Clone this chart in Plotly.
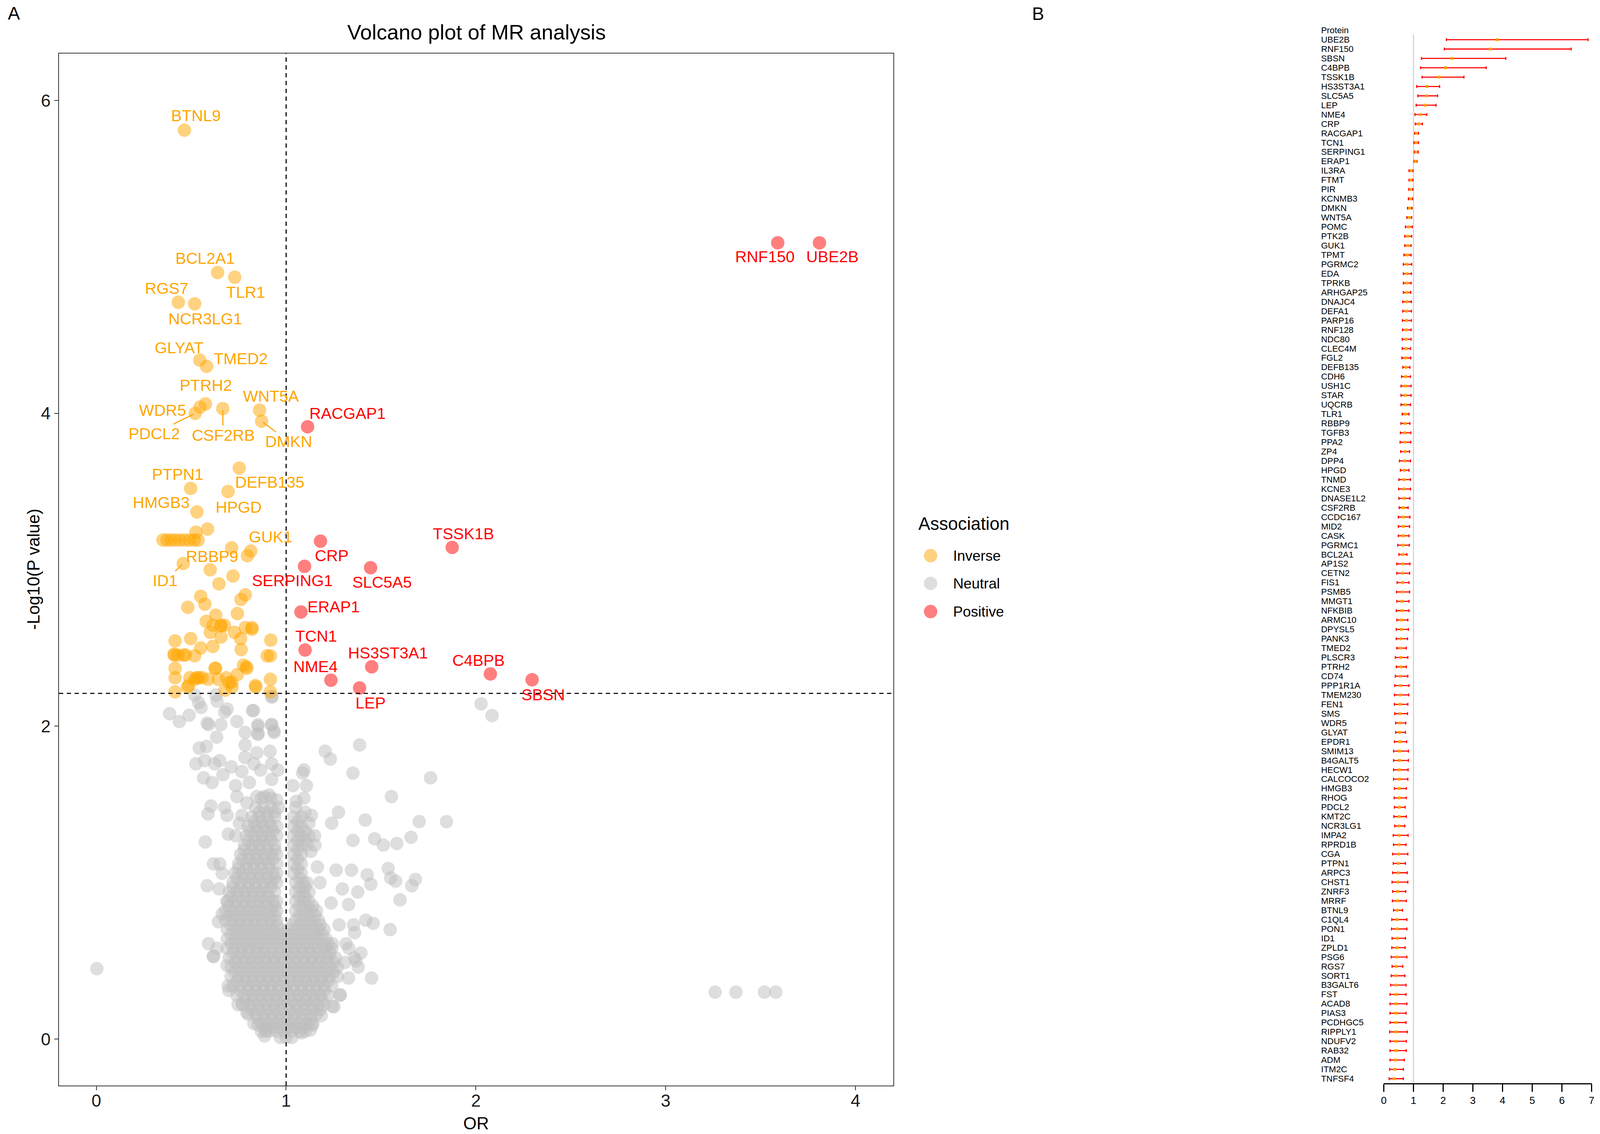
import plotly.graph_objects as go

W, H = 4511, 2902          # reference canvas, used to place things as fractions
S = 0.93                   # size factor for fonts / markers / strokes
FONT = "Liberation Sans, Arial, sans-serif"

# ---------------- Panel B : forest plot data ----------------
proteins = ["UBE2B","RNF150","SBSN","C4BPB","TSSK1B","HS3ST3A1","SLC5A5","LEP","NME4","CRP",
"RACGAP1","TCN1","SERPING1","ERAP1","IL3RA","FTMT","PIR","KCNMB3","DMKN","WNT5A",
"POMC","PTK2B","GUK1","TPMT","PGRMC2","EDA","TPRKB","ARHGAP25","DNAJC4","DEFA1",
"PARP16","RNF128","NDC80","CLEC4M","FGL2","DEFB135","CDH6","USH1C","STAR","UQCRB",
"TLR1","RBBP9","TGFB3","PPA2","ZP4","DPP4","HPGD","TNMD","KCNE3","DNASE1L2",
"CSF2RB","CCDC167","MID2","CASK","PGRMC1","BCL2A1","AP1S2","CETN2","FIS1","PSMB5",
"MMGT1","NFKBIB","ARMC10","DPYSL5","PANK3","TMED2","PLSCR3","PTRH2","CD74","PPP1R1A",
"TMEM230","FEN1","SMS","WDR5","GLYAT","EPDR1","SMIM13","B4GALT5","HECW1","CALCOCO2",
"HMGB3","RHOG","PDCL2","KMT2C","NCR3LG1","IMPA2","RPRD1B","CGA","PTPN1","ARPC3",
"CHST1","ZNRF3","MRRF","BTNL9","C1QL4","PON1","ID1","ZPLD1","PSG6","RGS7",
"SORT1","B3GALT6","FST","ACAD8","PIAS3","PCDHGC5","RIPPLY1","NDUFV2","RAB32","ADM",
"ITM2C","TNFSF4"]
or_vals = [3.82,3.59,2.30,2.08,1.87,1.45,1.44,1.39,1.23,1.18,
1.10,1.09,1.09,1.07,0.92,0.91,0.90,0.90,0.87,0.86,
0.83,0.81,0.81,0.79,0.78,0.78,0.78,0.78,0.78,0.77,
0.77,0.76,0.76,0.76,0.75,0.75,0.74,0.73,0.73,0.73,
0.73,0.72,0.71,0.71,0.71,0.70,0.69,0.68,0.68,0.68,
0.66,0.66,0.66,0.66,0.65,0.64,0.64,0.63,0.63,0.63,
0.61,0.61,0.60,0.59,0.58,0.57,0.57,0.58,0.56,0.56,
0.56,0.55,0.55,0.55,0.54,0.54,0.53,0.53,0.52,0.52,
0.52,0.52,0.52,0.52,0.51,0.51,0.51,0.50,0.49,0.49,
0.48,0.47,0.47,0.45,0.45,0.45,0.45,0.45,0.44,0.42,
0.42,0.42,0.41,0.41,0.40,0.40,0.40,0.40,0.40,0.39,
0.37,0.35]
ci_low = [2.11,2.04,1.27,1.24,1.29,1.11,1.15,1.09,1.05,1.06,
1.04,1.02,1.03,1.02,0.85,0.85,0.84,0.83,0.80,0.78,
0.73,0.71,0.71,0.68,0.66,0.66,0.66,0.66,0.64,0.64,
0.63,0.63,0.62,0.62,0.61,0.64,0.60,0.58,0.58,0.58,
0.62,0.58,0.56,0.55,0.57,0.53,0.56,0.51,0.50,0.51,
0.52,0.49,0.49,0.49,0.47,0.51,0.44,0.44,0.45,0.43,
0.44,0.42,0.44,0.42,0.42,0.44,0.39,0.42,0.39,0.37,
0.36,0.36,0.37,0.40,0.40,0.36,0.33,0.33,0.33,0.33,
0.36,0.35,0.36,0.34,0.37,0.32,0.33,0.30,0.32,0.30,
0.28,0.30,0.29,0.33,0.27,0.26,0.28,0.27,0.25,0.28,
0.25,0.23,0.21,0.21,0.21,0.21,0.20,0.21,0.21,0.21,
0.20,0.18]
ci_high = [6.88,6.31,4.11,3.45,2.70,1.88,1.81,1.76,1.45,1.30,
1.17,1.17,1.16,1.12,0.98,0.98,0.98,0.97,0.95,0.94,
0.96,0.94,0.92,0.92,0.94,0.93,0.92,0.91,0.93,0.93,
0.93,0.92,0.92,0.90,0.91,0.88,0.90,0.92,0.92,0.90,
0.85,0.88,0.91,0.91,0.87,0.90,0.85,0.90,0.90,0.88,
0.82,0.88,0.87,0.85,0.86,0.78,0.88,0.87,0.85,0.87,
0.85,0.85,0.81,0.83,0.80,0.76,0.81,0.76,0.81,0.85,
0.84,0.81,0.80,0.74,0.73,0.77,0.83,0.83,0.82,0.81,
0.76,0.76,0.72,0.76,0.71,0.82,0.75,0.81,0.73,0.79,
0.81,0.74,0.76,0.63,0.78,0.78,0.73,0.72,0.78,0.64,
0.71,0.75,0.75,0.78,0.75,0.75,0.79,0.76,0.76,0.69,
0.66,0.66]
forest_ticks = [0, 1, 2, 3, 4, 5, 6, 7]

# ---------------- Panel A : volcano data ----------------
pos_names = ["UBE2B","RNF150","SBSN","C4BPB","TSSK1B","HS3ST3A1","SLC5A5","LEP",
             "NME4","CRP","RACGAP1","TCN1","SERPING1","ERAP1"]
pos_or = [3.81,3.59,2.296,2.076,1.875,1.451,1.445,1.387,1.236,1.181,1.113,1.100,1.097,1.078]
pos_logp = [5.09,5.09,2.297,2.334,3.143,2.380,3.013,2.244,2.294,3.183,3.914,2.487,3.022,2.730]
pos_label_x = [3.879,3.523,2.354,2.013,1.935,1.538,1.505,1.445,1.155,1.240,1.323,1.158,1.033,1.250]
pos_label_y = [5.00,5.00,2.20,2.42,3.23,2.469,2.92,2.148,2.38,3.09,4.00,2.576,2.93,2.763]

inv_names = ["BTNL9","BCL2A1","TLR1","RGS7","NCR3LG1","GLYAT","TMED2","PTRH2","WDR5","PDCL2",
             "CSF2RB","WNT5A","DMKN","DEFB135","PTPN1","HPGD","HMGB3","GUK1","RBBP9","ID1"]
inv_or = [0.464,0.639,0.729,0.432,0.518,0.545,0.581,0.575,0.547,0.521,
          0.666,0.860,0.871,0.753,0.497,0.694,0.530,0.814,0.713,0.458]
inv_logp = [5.81,4.90,4.87,4.71,4.70,4.34,4.30,4.06,4.04,4.00,
            4.03,4.02,3.95,3.65,3.52,3.50,3.37,3.12,3.14,3.04]
inv_label_x = [0.524,0.574,0.788,0.371,0.574,0.436,0.762,0.578,0.349,0.305,
               0.668,0.921,1.013,0.914,0.429,0.750,0.342,0.917,0.611,0.363]
inv_label_y = [5.903,4.99,4.775,4.80,4.605,4.42,4.35,4.18,4.02,3.87,
               3.86,4.11,3.82,3.56,3.61,3.40,3.43,3.21,3.085,2.93]
inv_segment = ["PDCL2","CSF2RB","DMKN","ID1"]

# unlabeled inverse points
inv_other_or = [0.586,0.525,0.351,0.372,0.394,0.415,0.440,0.465,0.490,0.515,0.536,
                0.796,0.600,0.720,0.646,0.785,0.762,0.550,0.572,0.482,0.743,0.629,
                0.579,0.615,0.657,0.675,0.600,0.657,0.728,0.785,0.820,0.760,0.919,
                0.415,0.497,0.550,0.614,0.763,0.518,0.410,0.430,0.460,0.470,0.917,
                0.629,0.775,0.793,0.415,0.415,0.493,0.529,0.557,0.643,0.685,0.714,
                0.743,0.917,0.486,0.589,0.838,0.415,0.917,0.678,0.820,0.840,0.900,
                0.625,0.790,0.520,0.540,0.410,0.655,0.700,0.480,0.715]
inv_other_logp = [3.26,3.24,3.19,3.19,3.19,3.19,3.19,3.19,3.19,3.19,3.19,
                  3.09,3.00,2.96,2.91,2.84,2.81,2.83,2.78,2.76,2.72,2.71,
                  2.67,2.645,2.645,2.645,2.60,2.57,2.60,2.63,2.63,2.56,2.55,
                  2.545,2.56,2.50,2.51,2.49,2.45,2.455,2.455,2.455,2.455,2.45,
                  2.37,2.39,2.37,2.37,2.31,2.31,2.31,2.31,2.30,2.31,2.28,
                  2.33,2.30,2.26,2.30,2.26,2.22,2.22,2.23,2.62,2.25,2.45,
                  2.37,2.38,2.30,2.31,2.46,2.64,2.28,2.25,2.25]

# neutral: dense core, read row by row (-log10 P level, OR values along the row)
core_levels = [0.01,0.05,0.10,0.16,0.22,0.28,0.34,0.40,0.46,0.52,0.58,0.64,0.70,0.76,
               0.82,0.88,0.94,1.00,1.06,1.12,1.18,1.24,1.30,1.36,1.42,1.48,1.54]
core_or = [
 [0.97,1.00,1.03],
 [0.87,0.91,0.95,0.99,1.03,1.07,1.10],
 [0.83,0.87,0.91,0.95,0.99,1.03,1.07,1.11,1.14],
 [0.80,0.84,0.88,0.92,0.96,1.00,1.04,1.08,1.12,1.16],
 [0.77,0.81,0.85,0.89,0.93,0.97,1.01,1.05,1.09,1.13,1.17,1.20],
 [0.74,0.78,0.82,0.86,0.90,0.94,0.98,1.02,1.06,1.10,1.14,1.18,1.22],
 [0.72,0.76,0.80,0.84,0.88,0.92,0.96,1.00,1.04,1.08,1.12,1.16,1.20,1.24],
 [0.71,0.75,0.79,0.83,0.87,0.91,0.95,0.99,1.03,1.07,1.11,1.15,1.19,1.23,1.27],
 [0.71,0.75,0.79,0.83,0.87,0.91,0.95,0.99,1.03,1.07,1.11,1.15,1.19,1.23,1.27],
 [0.70,0.74,0.78,0.82,0.86,0.90,0.94,0.98,1.02,1.06,1.10,1.14,1.18,1.22,1.26],
 [0.69,0.73,0.77,0.81,0.85,0.89,0.93,0.97,1.01,1.05,1.09,1.13,1.17,1.21,1.24],
 [0.69,0.73,0.77,0.81,0.85,0.89,0.93,0.97,1.01,1.05,1.09,1.13,1.17,1.21],
 [0.69,0.73,0.77,0.81,0.85,0.89,0.93,0.97,1.01,1.05,1.09,1.13,1.17,1.20],
 [0.68,0.72,0.76,0.80,0.84,0.88,0.92,0.95,1.05,1.09,1.13,1.17],
 [0.68,0.72,0.76,0.80,0.84,0.88,0.92,0.95,1.05,1.09,1.13,1.16],
 [0.69,0.73,0.77,0.81,0.85,0.89,0.93,0.95,1.05,1.09,1.12],
 [0.70,0.74,0.78,0.82,0.86,0.90,0.94,1.05,1.09,1.12],
 [0.72,0.76,0.80,0.84,0.88,0.92,0.95,1.05,1.09,1.11],
 [0.73,0.77,0.81,0.85,0.89,0.93,0.95,1.04,1.08],
 [0.75,0.79,0.83,0.87,0.91,0.95,1.04,1.08],
 [0.76,0.80,0.84,0.88,0.92,0.95,1.04,1.08],
 [0.78,0.82,0.86,0.90,0.94,1.04,1.08,1.11],
 [0.79,0.83,0.87,0.91,0.95,1.04,1.08,1.12],
 [0.80,0.84,0.88,0.92,0.95,1.04,1.08],
 [0.82,0.86,0.90,0.94,1.04,1.08],
 [0.84,0.88,0.92,0.96,1.05],
 [0.87,0.92]]
core2_levels = [0.075,0.13,0.19,0.25,0.31,0.37,0.43,0.49,0.55,0.61,0.67,0.73,0.79,0.85,
                0.91,0.97,1.03,1.09,1.15,1.21,1.27,1.33,1.39,1.45]
core2_or = [
 [0.89,0.93,0.97,1.01,1.05,1.09],
 [0.85,0.89,0.93,0.97,1.01,1.05,1.09,1.13],
 [0.82,0.86,0.90,0.94,0.98,1.02,1.06,1.10,1.14,1.18],
 [0.79,0.83,0.87,0.91,0.95,0.99,1.03,1.07,1.11,1.15,1.19],
 [0.76,0.80,0.84,0.88,0.92,0.96,1.00,1.04,1.08,1.12,1.16,1.20],
 [0.74,0.78,0.82,0.86,0.90,0.94,0.98,1.02,1.06,1.10,1.14,1.18,1.22],
 [0.73,0.77,0.81,0.85,0.89,0.93,0.97,1.01,1.05,1.09,1.13,1.17,1.21,1.25],
 [0.73,0.77,0.81,0.85,0.89,0.93,0.97,1.01,1.05,1.09,1.13,1.17,1.21,1.25],
 [0.72,0.76,0.80,0.84,0.88,0.92,0.96,1.00,1.04,1.08,1.12,1.16,1.20,1.23],
 [0.71,0.75,0.79,0.83,0.87,0.91,0.95,0.99,1.03,1.07,1.11,1.15,1.19,1.22],
 [0.71,0.75,0.79,0.83,0.87,0.91,0.95,0.99,1.03,1.07,1.11,1.15,1.19],
 [0.71,0.75,0.79,0.83,0.87,0.91,0.95,1.03,1.07,1.11,1.15,1.18],
 [0.70,0.74,0.78,0.82,0.86,0.90,0.94,1.07,1.11,1.15],
 [0.70,0.74,0.78,0.82,0.86,0.90,0.94,1.07,1.11,1.14],
 [0.71,0.75,0.79,0.83,0.87,0.91,1.07,1.10],
 [0.72,0.76,0.80,0.84,0.88,0.92,1.07,1.10],
 [0.74,0.78,0.82,0.86,0.90,0.94,1.07],
 [0.75,0.79,0.83,0.87,0.91,1.06],
 [0.77,0.81,0.85,0.89,0.93,1.06],
 [0.78,0.82,0.86,0.90,0.94,1.06],
 [0.80,0.84,0.88,0.92,1.06,1.10],
 [0.81,0.85,0.89,0.93,1.06,1.10],
 [0.83,0.87,0.91,1.06],
 [0.86,0.90,0.94]]

# neutral: scattered points
neu_or = [0.519,0.539,0.552,0.630,0.636,0.689,0.676,0.924,0.386,0.437,0.489,0.591,0.584,0.656,
          0.634,0.741,0.823,0.852,0.852,0.924,0.937,0.784,0.784,0.542,0.580,0.845,0.915,0.525,
          0.571,0.650,0.623,0.711,0.783,0.830,0.924,0.956,0.767,0.865,0.667,0.565,0.610,0.806,
          0.734,0.924,0.911,0.741,0.845,
          1.206,1.233,1.387,1.352,1.761,1.555,1.094,1.087,1.107,1.035,1.054,1.094,1.276,1.240,
          1.417,1.701,1.845,1.352,1.466,1.512,1.583,1.658,1.133,1.152,1.538,1.551,1.577,1.681,
          1.662,1.600,1.427,1.446,1.377,1.344,1.263,1.296,1.329,1.237,1.420,1.459,1.548,1.355,
          1.361,1.279,1.244,1.316,1.394,1.368,1.329,1.450,1.283,1.244,1.165,1.178,
          0.003,0.604,0.588,0.676,0.689,0.574,0.617,0.584,0.647,0.643,0.591,0.617,0.689,0.695,
          0.747,0.793,0.852,0.891,1.139,1.080,1.185,0.734,0.695,0.754,0.767,0.793,0.885,0.950,
          0.650,0.663,0.689,0.663,0.636,
          2.027,2.085,3.26,3.37,3.52,3.58,
          0.925,0.828,0.851,0.923,0.935,0.851,
          0.617,0.698,0.770,0.886,1.286,1.252,1.128,1.33,1.36,1.38,1.31,1.12,1.15,1.10,1.13]
neu_logp = [2.198,2.15,2.12,2.20,2.16,2.11,2.09,2.19,2.08,2.03,2.07,2.01,2.02,2.01,
            1.93,2.03,2.10,2.00,1.95,2.01,1.96,1.96,1.88,1.86,1.87,1.83,1.84,1.76,
            1.78,1.78,1.76,1.74,1.80,1.76,1.76,1.72,1.71,1.72,1.69,1.67,1.64,1.64,
            1.62,1.66,1.56,1.55,1.55,
            1.84,1.79,1.88,1.70,1.67,1.55,1.72,1.70,1.62,1.62,1.52,1.54,1.45,1.38,
            1.40,1.39,1.39,1.27,1.28,1.24,1.25,1.29,1.43,1.24,1.09,1.03,1.01,1.02,
            0.98,0.89,1.05,0.99,0.94,1.08,1.08,0.96,0.86,0.87,0.76,0.74,0.70,0.73,
            0.68,0.73,0.61,0.61,0.55,0.50,0.39,0.39,0.28,0.21,1.10,1.00,
            0.45,1.49,1.44,1.48,1.43,1.26,1.12,0.98,0.96,0.75,0.61,0.53,0.47,0.34,
            0.22,0.17,0.09,0.05,0.09,0.04,0.15,1.30,1.31,1.38,1.43,1.51,1.55,1.53,
            1.12,1.06,0.88,0.80,0.58,
            2.143,2.068,0.30,0.30,0.30,0.30,
            2.186,2.10,2.01,2.01,1.97,1.95,
            0.527,0.311,0.225,0.02,0.283,0.206,0.058,0.58,0.52,0.46,0.49,1.38,1.30,1.45,1.20]

x_ticks = [0, 1, 2, 3, 4]
y_ticks = [0, 2, 4, 6]
or_threshold = 1.0
p_threshold = 2.21
legend_labels = ["Inverse", "Neutral", "Positive"]

# ---------------- styling ----------------
C_INV = "rgba(255,165,0,0.5)"
C_NEU = "rgba(190,190,190,0.5)"
C_POS = "rgba(255,0,0,0.5)"
T_INV = "#FFA500"
T_POS = "#FF0000"
MS = 37 * S


def px(x):
    return x / W


def py(y):
    return 1 - y / H


def fs(v):
    return round(v * S, 1)


fig = go.Figure()

core_x, core_y = [], []
for levels, table in ((core_levels, core_or), (core2_levels, core2_or)):
    for lvl, row in zip(levels, table):
        for v in row:
            core_x.append(v)
            core_y.append(lvl)

fig.add_trace(go.Scatter(x=core_x + neu_or, y=core_y + neu_logp, mode="markers",
                         marker=dict(size=MS, color=C_NEU, line=dict(width=0)),
                         xaxis="x", yaxis="y", showlegend=False, hoverinfo="skip"))
fig.add_trace(go.Scatter(x=inv_or + inv_other_or, y=inv_logp + inv_other_logp, mode="markers",
                         marker=dict(size=MS, color=C_INV, line=dict(width=0)),
                         xaxis="x", yaxis="y", showlegend=False, hoverinfo="skip"))
fig.add_trace(go.Scatter(x=pos_or, y=pos_logp, mode="markers",
                         marker=dict(size=MS, color=C_POS, line=dict(width=0)),
                         xaxis="x", yaxis="y", showlegend=False, hoverinfo="skip"))

# forest plot
rows = list(range(1, len(proteins) + 1))
fig.add_trace(go.Scatter(
    x=or_vals, y=rows, mode="markers",
    marker=dict(symbol="square", size=fs(8), color="#FFA500", line=dict(width=0)),
    error_x=dict(type="data", symmetric=False,
                 array=[h - o for h, o in zip(ci_high, or_vals)],
                 arrayminus=[o - l for o, l in zip(or_vals, ci_low)],
                 color="#FF0000", thickness=fs(3), width=fs(4)),
    xaxis="x2", yaxis="y2", showlegend=False, hoverinfo="skip", cliponaxis=False))

annotations = []
shapes = []

# volcano labels
label_font = dict(family=FONT, size=fs(44))
for n, xo, yo, lx, ly in zip(inv_names, inv_or, inv_logp, inv_label_x, inv_label_y):
    if n in inv_segment:
        annotations.append(dict(x=xo, y=yo, ax=lx, ay=ly, xref="x", yref="y", axref="x", ayref="y",
                                text=n, showarrow=True, arrowhead=0, arrowwidth=fs(3),
                                arrowcolor=T_INV, standoff=4, font=dict(label_font, color=T_INV)))
    else:
        annotations.append(dict(x=lx, y=ly, xref="x", yref="y", text=n, showarrow=False,
                                xanchor="center", yanchor="middle",
                                font=dict(label_font, color=T_INV)))
for n, lx, ly in zip(pos_names, pos_label_x, pos_label_y):
    annotations.append(dict(x=lx, y=ly, xref="x", yref="y", text=n, showarrow=False,
                            xanchor="center", yanchor="middle",
                            font=dict(label_font, color=T_POS)))


def paper_text(x, y, text, size, anchor="center", angle=0):
    return dict(x=px(x), y=py(y), xref="paper", yref="paper", text=text, textangle=angle,
                xanchor=anchor, yanchor="middle", showarrow=False,
                font=dict(family=FONT, size=fs(size), color="black"))


# titles and panel letters
annotations += [
    paper_text(1340, 82, "Volcano plot of MR analysis", 58),
    paper_text(1339, 2874, "OR", 47),
    paper_text(86, 1457, "-Log10(P value)", 47, angle=-90),
    paper_text(32, 34, "A", 50),
    paper_text(2929, 35, "B", 50),
    paper_text(2588, 1340, "Association", 49, anchor="left"),
]

# manual legend (pixel-sized circles so they stay round)
for lab, col, cy in zip(legend_labels, [C_INV, C_NEU, C_POS], [1422, 1493, 1565]):
    shapes.append(dict(type="circle", xref="paper", yref="paper",
                       xsizemode="pixel", ysizemode="pixel",
                       xanchor=px(2625), yanchor=py(cy),
                       x0=-MS / 2, x1=MS / 2, y0=-MS / 2, y1=MS / 2,
                       fillcolor=col, line=dict(width=0)))
    annotations.append(paper_text(2687, cy, lab, 40, anchor="left"))

# forest labels
forest_font = dict(family=FONT, size=fs(24), color="black")
annotations.append(dict(x=px(3728), y=0, xref="paper", yref="y2", text="Protein",
                        xanchor="left", yanchor="middle", showarrow=False, font=forest_font))
for r, n in zip(rows, proteins):
    annotations.append(dict(x=px(3728), y=r, xref="paper", yref="y2", text=n,
                            xanchor="left", yanchor="middle", showarrow=False, font=forest_font))

# threshold lines
dash = "%dpx,%dpx" % (round(12 * S), round(10 * S))
shapes += [
    dict(type="line", xref="x", yref="y", x0=-0.197, x1=4.2, y0=p_threshold, y1=p_threshold,
         line=dict(color="black", width=fs(3), dash=dash)),
    dict(type="line", xref="x", yref="y", x0=or_threshold, x1=or_threshold, y0=-0.297, y1=6.30,
         line=dict(color="black", width=fs(3), dash=dash)),
    dict(type="line", xref="x2", yref="y2", x0=1, x1=1, y0=0.45, y1=112.48, layer="below",
         line=dict(color="#D3D3D3", width=fs(3))),
]

tickfont = dict(family=FONT, size=fs(48), color="#1a1a1a")
fig.update_layout(
    autosize=True, margin=dict(l=0, r=0, t=0, b=0, pad=0),
    paper_bgcolor="white", plot_bgcolor="white",
    showlegend=False,
    xaxis=dict(domain=[px(159), px(2520)], range=[-0.197, 4.2], tickvals=x_ticks,
               ticks="outside", ticklen=fs(11), tickwidth=fs(2.5), tickcolor="#333333",
               ticklabelstandoff=-12,
               showline=True, mirror=True, linecolor="#333333", linewidth=fs(2.5),
               showgrid=False, zeroline=False, tickfont=tickfont, anchor="y"),
    yaxis=dict(domain=[py(2778), py(137)], range=[-0.297, 6.30], tickvals=y_ticks,
               ticks="outside", ticklen=fs(11), tickwidth=fs(2.5), tickcolor="#333333",
               showline=True, mirror=True, linecolor="#333333", linewidth=fs(2.5),
               showgrid=False, zeroline=False, tickfont=tickfont, anchor="x"),
    xaxis2=dict(domain=[px(3907), px(4495)], range=[0, 7], tickvals=forest_ticks,
                ticks="outside", ticklen=fs(20), tickwidth=fs(3), tickcolor="black",
                showline=True, linecolor="black", linewidth=fs(3),
                showgrid=False, zeroline=False,
                tickfont=dict(family=FONT, size=fs(28), color="black"), anchor="y2"),
    yaxis2=dict(domain=[py(2772), py(65.6)], range=[112.48, -0.5], visible=False,
                showgrid=False, zeroline=False, anchor="x2"),
    annotations=annotations,
    shapes=shapes,
)

post = ("document.documentElement.style.margin='0';document.body.style.margin='0';"
        "document.documentElement.style.overflow='hidden';document.body.style.overflow='hidden';"
        "Plotly.Plots.resize(document.getElementById('{plot_id}'));")
fig.write_html("out.html", default_width="100%", default_height="100%",
               config={"responsive": True, "displayModeBar": False}, post_script=post)
